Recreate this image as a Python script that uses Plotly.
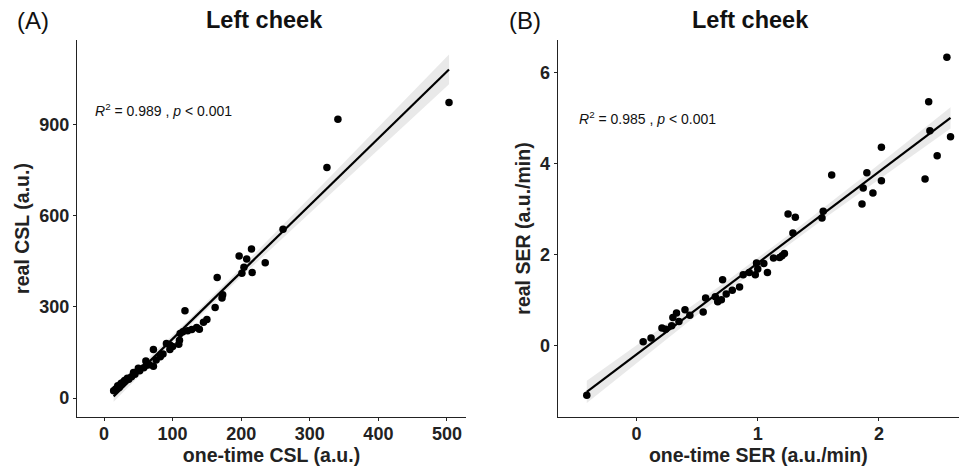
import numpy as np
import plotly.graph_objects as go
from plotly.subplots import make_subplots

# Panel A: CSL
csl_onetime = [14, 17, 20, 22, 25, 28, 30, 34, 36, 40, 43, 45, 50, 52, 58, 61, 62, 66, 72, 72,
               76, 82, 86, 91, 96, 96, 100, 109, 110, 111, 115, 118, 122, 128, 135, 139, 145, 150,
               162, 165, 172, 173, 197, 201, 204, 208, 215, 216, 235, 261, 325, 341, 503]
csl_real = [24, 30, 40, 35, 49, 52, 58, 65, 62, 70, 84, 78, 98, 90, 100, 122, 108, 110, 160, 105,
            125, 136, 145, 180, 175, 160, 170, 177, 190, 213, 218, 288, 222, 226, 232, 227, 250, 259,
            298, 397, 330, 340, 468, 411, 431, 458, 491, 414, 446, 556, 760, 919, 974]

# Panel B: SER
ser_onetime = [-0.41, 0.055, 0.12, 0.21, 0.24, 0.29, 0.30, 0.33, 0.35, 0.40, 0.44, 0.55, 0.57, 0.65,
               0.67, 0.70, 0.71, 0.74, 0.79, 0.85, 0.88, 0.93, 0.98, 0.99, 1.00, 1.05, 1.08, 1.13,
               1.18, 1.20, 1.22, 1.25, 1.29, 1.31, 1.53, 1.54, 1.61, 1.86, 1.87, 1.90, 1.95, 2.02,
               2.02, 2.38, 2.41, 2.42, 2.48, 2.56, 2.59]
ser_real = [-1.10, 0.075, 0.16, 0.38, 0.35, 0.43, 0.61, 0.71, 0.52, 0.78, 0.66, 0.73, 1.04, 1.07,
            0.96, 1.00, 1.44, 1.13, 1.21, 1.28, 1.55, 1.60, 1.55, 1.81, 1.68, 1.80, 1.60, 1.92,
            1.93, 1.97, 2.02, 2.89, 2.47, 2.82, 2.80, 2.95, 3.75, 3.11, 3.46, 3.80, 3.35, 4.36,
            3.62, 3.66, 5.36, 4.72, 4.17, 6.34, 4.59]

titles = ["Left cheek", "Left cheek"]
panel_tags = ["(A)", "(B)"]
stats_text = ["<i>R</i><sup>2</sup> = 0.989 , <i>p</i> &lt; 0.001",
              "<i>R</i><sup>2</sup> = 0.985 , <i>p</i> &lt; 0.001"]
x_titles = ["one-time CSL (a.u.)", "one-time SER (a.u./min)"]
y_titles = ["real CSL (a.u.)", "real SER (a.u./min)"]


def fit_band(x, y, n=100):
    x = np.asarray(x, float)
    y = np.asarray(y, float)
    b, a = np.polyfit(x, y, 1)
    xs = np.linspace(x.min(), x.max(), n)
    ys = a + b * xs
    resid = y - (a + b * x)
    dof = len(x) - 2
    s = np.sqrt(np.sum(resid ** 2) / dof)
    sxx = np.sum((x - x.mean()) ** 2)
    se = s * np.sqrt(1 / len(x) + (xs - x.mean()) ** 2 / sxx)
    t = 2.01
    return xs, ys, ys - t * se, ys + t * se


FONT = "Liberation Sans"
fig = make_subplots(rows=1, cols=2, horizontal_spacing=0.104)
data = [(csl_onetime, csl_real), (ser_onetime, ser_real)]
for i, (xv, yv) in enumerate(data):
    col = i + 1
    xs, ys, lo, hi = fit_band(xv, yv)
    fig.add_trace(go.Scatter(x=np.concatenate([xs, xs[::-1]]), y=np.concatenate([hi, lo[::-1]]),
                             fill="toself", fillcolor="rgba(200,200,200,0.4)", line=dict(width=0),
                             hoverinfo="skip", showlegend=False), row=1, col=col)
    fig.add_trace(go.Scatter(x=xv, y=yv, mode="markers",
                             marker=dict(color="black", size=7.5), showlegend=False), row=1, col=col)
    fig.add_trace(go.Scatter(x=xs, y=ys, mode="lines", line=dict(color="black", width=2.2),
                             showlegend=False), row=1, col=col)

axis_common = dict(showline=True, linecolor="#222", linewidth=1.3, ticks="outside", ticklen=3,
                   tickcolor="#222", showgrid=False, zeroline=False, mirror=False,
                   tickfont=dict(family=FONT, size=18, color="#222", weight="bold"))
fig.update_xaxes(**axis_common, ticklabelstandoff=-3)
fig.update_yaxes(**axis_common)

title_font = dict(family=FONT, size=19.5, color="#222", weight="bold")
fig.update_xaxes(range=[-39.4, 527.7], tickvals=[0, 100, 200, 300, 400, 500], row=1, col=1,
                 title=dict(text=x_titles[0], standoff=0, font=title_font))
fig.update_yaxes(range=[-62.6, 1180], tickvals=[0, 300, 600, 900], row=1, col=1,
                 title=dict(text=y_titles[0], standoff=4, font=title_font))
fig.update_xaxes(range=[-0.65, 2.66], tickvals=[0, 1, 2], row=1, col=2,
                 title=dict(text=x_titles[1], standoff=0, font=title_font))
fig.update_yaxes(range=[-1.58, 6.72], tickvals=[0, 2, 4, 6], row=1, col=2,
                 title=dict(text=y_titles[1], standoff=4, font=title_font))

fig.update_layout(xaxis=dict(domain=[0, 0.441]), xaxis2=dict(domain=[0.545, 1.0]))

annotations = []
centers = [0.213, 0.764]
tag_x = [-0.07, 0.488]
stat_pos = [(0.018, 0.814), (0.567, 0.793)]
for i in range(2):
    annotations.append(dict(text=titles[i], x=centers[i], y=1.053, xref="paper", yref="paper",
                            showarrow=False, xanchor="center", yanchor="middle",
                            font=dict(family=FONT, size=23.5, color="#111", weight="bold")))
    annotations.append(dict(text=panel_tags[i], x=tag_x[i], y=1.053, xref="paper", yref="paper",
                            showarrow=False, xanchor="left", yanchor="middle",
                            font=dict(family=FONT, size=24, color="#111")))
    annotations.append(dict(text=stats_text[i], x=stat_pos[i][0], y=stat_pos[i][1], xref="paper",
                            yref="paper", showarrow=False, xanchor="left", yanchor="middle",
                            font=dict(family=FONT, size=14, color="#111")))

fig.update_layout(width=959, height=467, margin=dict(l=77, r=0, t=40, b=50),
                  plot_bgcolor="white", paper_bgcolor="white", annotations=annotations)

fig.write_html("out.html")
